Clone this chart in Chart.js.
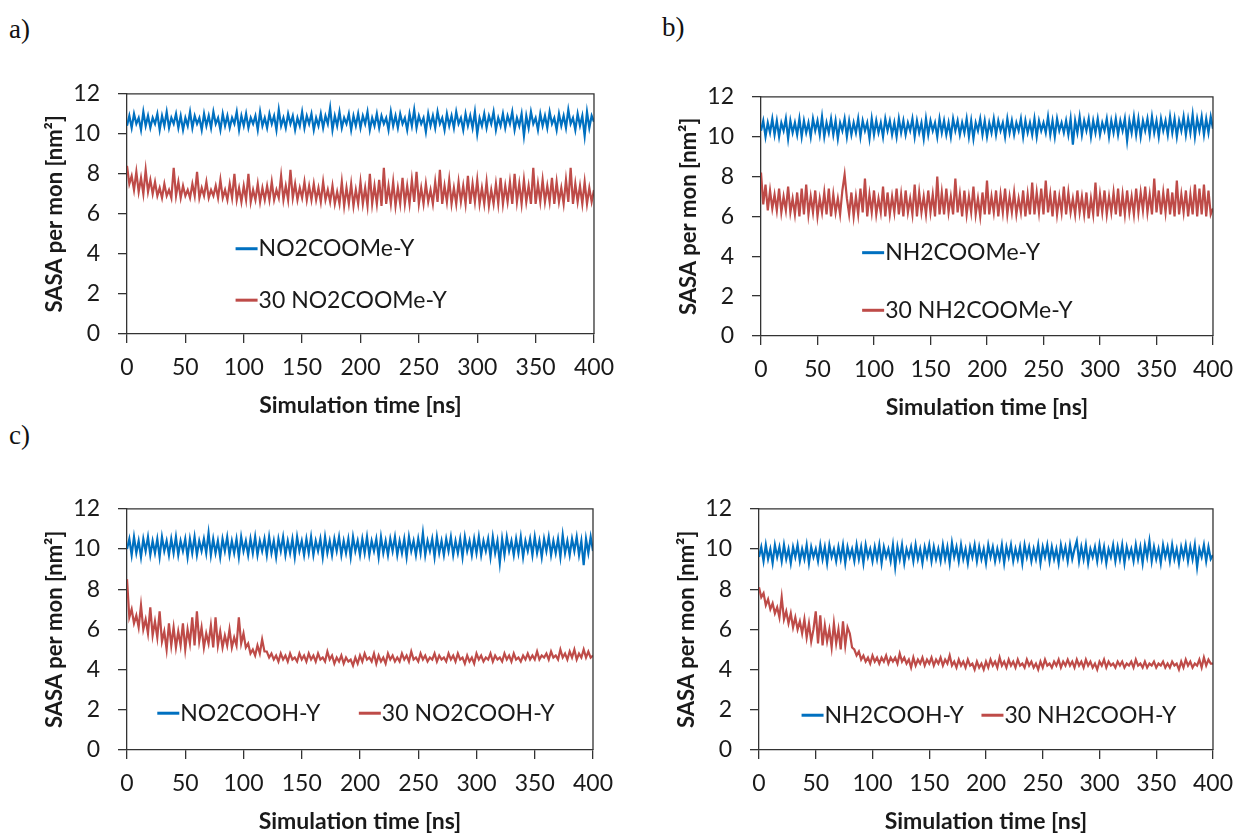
<!DOCTYPE html>
<html>
<head>
<meta charset="utf-8">
<script src="https://cdn.jsdelivr.net/npm/chart.js@4.4.1/dist/chart.umd.min.js"></script>
<style>
  html, body { margin: 0; padding: 0; background: #fff; overflow: hidden; }
  body { width: 1244px; height: 836px; position: relative; }
  canvas { position: absolute; }
  .tag { position: absolute; font-family: 'Liberation Serif', 'DejaVu Serif', serif; font-size: 27px; color: #111; line-height: 30px; }
</style>
</head>
<body>
<div class="tag" style="left:9px;top:14px">a)</div>
<div class="tag" style="left:662px;top:12px">b)</div>
<div class="tag" style="left:9px;top:420px">c)</div>
<canvas id="panelA" width="625" height="362" style="left:0px;top:62px"></canvas>
<canvas id="panelB" width="610" height="361" style="left:634px;top:65px"></canvas>
<canvas id="panelC" width="625" height="363" style="left:0px;top:477px"></canvas>
<canvas id="panelD" width="612" height="363" style="left:632px;top:477px"></canvas>
<script>
// sampling times (ns)
const timeNs = [0,2,4,6,8,10,12,14,16,18,20,22,24,26,28,30,32,34,36,38,
  40,42,44,46,48,50,52,54,56,58,60,62,64,66,68,70,72,74,76,78,
  80,82,84,86,88,90,92,94,96,98,100,102,104,106,108,110,112,114,116,118,
  120,122,124,126,128,130,132,134,136,138,140,142,144,146,148,150,152,154,156,158,
  160,162,164,166,168,170,172,174,176,178,180,182,184,186,188,190,192,194,196,198,
  200,202,204,206,208,210,212,214,216,218,220,222,224,226,228,230,232,234,236,238,
  240,242,244,246,248,250,252,254,256,258,260,262,264,266,268,270,272,274,276,278,
  280,282,284,286,288,290,292,294,296,298,300,302,304,306,308,310,312,314,316,318,
  320,322,324,326,328,330,332,334,336,338,340,342,344,346,348,350,352,354,356,358,
  360,362,364,366,368,370,372,374,376,378,380,382,384,386,388,390,392,394,396,398,
  400];

// a) SASA per monomer, nm^2
const no2coomeY = [10.4,10.9,10.3,11.0,10.5,10.8,10.2,11.1,10.4,10.9,10.3,10.8,10.5,11.0,10.2,10.9,10.4,11.1,10.3,10.8,
  10.5,11.0,10.3,10.9,10.2,10.8,10.4,11.1,10.3,10.9,10.5,10.8,10.2,11.0,10.4,10.9,10.3,11.1,10.5,10.8,
  10.2,11.0,10.4,10.9,10.3,10.8,10.5,11.1,10.2,10.9,10.4,11.0,10.3,10.8,10.5,10.9,10.2,11.1,10.4,10.8,
  10.3,11.0,10.5,10.9,10.2,11.2,10.4,10.8,10.3,11.0,10.5,10.9,10.2,10.8,10.4,11.1,10.3,10.9,10.5,11.0,
  10.2,10.8,10.4,11.0,10.3,10.9,10.5,11.3,10.2,10.9,10.4,11.1,10.3,10.8,10.5,11.0,10.2,10.9,10.4,11.0,
  10.3,10.9,10.5,11.1,10.2,10.8,10.4,11.0,10.3,10.9,10.5,10.8,10.2,11.1,10.4,10.9,10.3,11.0,10.5,10.8,
  10.2,11.0,10.4,11.2,10.3,10.9,10.5,10.8,10.1,11.0,10.4,10.9,10.3,11.1,10.5,10.8,10.2,11.0,10.4,10.9,
  10.3,11.1,10.5,10.8,10.2,11.0,10.4,10.9,10.3,11.1,10.0,10.8,10.4,11.0,10.3,10.9,10.5,11.1,10.2,10.8,
  10.4,11.0,10.3,10.9,10.5,11.1,10.2,10.8,10.4,11.0,9.9,10.9,10.3,11.1,10.5,10.8,10.2,11.0,10.4,10.9,
  10.3,11.1,10.5,10.8,10.2,11.0,10.4,10.9,10.3,11.2,10.5,10.8,10.2,11.0,10.4,10.9,9.9,11.1,10.3,10.9,
  10.6];
const no2coomeY30 = [8.4,7.5,7.9,7.2,8.1,7.1,7.8,7.0,8.2,7.1,7.7,7.0,7.6,6.9,7.3,6.8,7.5,6.9,7.2,6.8,
  8.3,6.9,7.6,6.8,7.4,6.9,7.2,6.8,7.5,6.9,8.1,6.8,7.3,6.9,7.6,6.8,7.2,6.9,7.4,6.8,
  7.7,6.8,7.2,6.7,7.5,6.8,8.0,6.7,7.3,6.6,7.4,6.7,8.0,6.6,7.2,6.7,7.5,6.6,7.3,6.7,
  7.4,6.7,7.6,6.7,7.2,6.8,7.9,6.7,7.4,6.7,8.2,6.8,7.5,6.7,7.3,6.8,7.6,6.7,7.4,6.7,
  7.5,6.7,7.3,6.6,7.6,6.7,7.2,6.6,7.4,6.5,7.1,6.5,7.6,6.4,7.3,6.5,7.5,6.4,7.2,6.5,
  7.6,6.5,7.3,6.4,8.0,6.5,7.4,6.5,7.7,6.4,8.3,6.5,7.4,6.5,7.6,6.4,7.3,6.5,7.8,6.5,
  7.4,6.5,7.7,6.6,8.1,6.5,7.3,6.5,7.5,6.6,7.2,6.5,7.6,6.6,8.2,6.5,7.4,6.6,7.7,6.5,
  7.3,6.5,7.6,6.6,7.4,6.5,7.9,6.5,7.5,6.6,7.7,6.5,7.3,6.5,7.6,6.4,7.2,6.5,7.5,6.5,
  7.8,6.5,7.4,6.6,7.6,6.5,8.0,6.6,7.5,6.5,7.7,6.6,7.4,6.5,8.3,6.5,7.5,6.6,7.7,6.6,
  7.4,6.6,7.8,6.5,7.6,6.6,7.3,6.5,7.7,6.6,8.3,6.5,7.5,6.6,7.4,6.5,7.6,6.5,7.3,6.6,
  7.2];

// b)
const nh2coomeY = [10.3,10.8,10.0,10.7,10.2,10.9,10.1,10.8,10.0,10.7,10.3,10.9,9.9,10.8,10.2,10.7,10.1,10.9,10.0,10.8,
  10.2,10.7,10.0,10.9,10.3,10.8,10.1,11.0,10.0,10.7,10.2,10.9,10.1,10.8,9.9,10.7,10.3,10.9,10.0,10.8,
  10.1,10.7,10.2,10.9,10.0,10.8,10.3,10.7,9.9,10.9,10.1,10.8,10.2,10.7,10.0,10.9,10.3,10.8,10.1,10.7,
  10.0,10.9,10.2,10.8,10.1,10.7,10.3,10.9,10.0,10.8,10.2,10.7,9.9,10.9,10.1,10.8,10.3,10.7,10.0,10.9,
  10.2,10.8,10.1,10.7,10.0,10.9,10.3,10.8,10.1,10.7,10.2,10.9,10.0,10.8,9.9,10.7,10.3,10.9,10.1,10.8,
  10.0,10.7,10.2,10.9,10.1,10.8,10.3,10.7,10.0,10.9,10.2,10.8,10.1,10.7,10.3,10.9,10.0,10.8,10.2,10.7,
  10.1,10.9,10.0,10.8,10.3,10.7,10.2,11.0,10.1,10.8,10.0,10.9,10.3,10.7,10.2,10.8,10.1,10.9,9.6,10.8,
  10.2,11.0,10.1,10.8,10.3,10.9,10.0,10.8,10.2,10.9,10.1,10.7,10.3,10.9,10.0,10.8,10.2,10.9,10.1,10.8,
  10.3,10.9,9.8,10.8,10.2,11.0,10.1,10.9,10.0,10.8,10.3,10.9,10.1,11.0,10.2,10.8,10.0,10.9,10.3,10.8,
  10.1,11.0,10.2,10.9,10.0,10.8,10.3,11.0,10.1,10.9,10.2,11.1,10.0,10.9,10.3,11.0,10.1,10.9,10.2,11.0,
  10.4];
const nh2coomeY30 = [8.2,6.6,7.6,6.3,7.3,6.4,7.1,6.3,7.4,6.2,7.0,6.3,7.5,6.2,6.9,6.1,7.2,6.0,7.4,6.1,
  7.6,6.1,7.0,6.2,7.3,6.0,6.9,6.2,7.2,6.1,7.4,6.0,7.1,6.2,6.9,6.1,7.3,8.1,6.9,6.1,
  7.2,6.0,7.0,6.1,7.4,6.2,7.9,6.0,7.1,6.2,7.3,6.1,6.9,6.2,7.5,6.0,7.2,6.1,7.0,6.2,
  7.4,6.1,7.1,6.0,7.3,6.2,6.9,6.1,7.6,6.0,7.2,6.2,7.0,6.1,7.3,6.2,7.1,6.0,8.0,6.1,
  7.2,6.1,7.4,6.2,7.0,6.1,7.9,6.2,7.1,6.0,7.3,6.1,7.0,6.2,7.5,6.1,6.9,6.0,7.2,6.1,
  7.8,6.1,7.0,6.2,7.3,6.0,7.1,6.2,7.4,6.1,7.0,6.2,7.2,6.1,6.9,6.2,7.3,6.0,7.1,6.1,
  7.7,6.1,7.2,6.2,7.4,6.1,7.8,6.2,7.1,6.0,7.3,6.1,7.0,6.2,7.5,6.1,7.2,6.2,6.9,6.1,
  7.3,6.2,7.0,6.1,7.2,5.9,6.9,6.1,7.7,6.0,7.1,6.2,7.3,6.1,7.0,6.2,7.2,6.1,7.4,6.0,
  7.1,6.1,7.3,6.2,7.0,6.1,7.4,6.2,7.2,6.3,7.5,6.2,7.1,6.1,7.9,6.2,7.3,6.1,7.2,6.2,
  7.4,6.1,7.2,6.0,7.8,6.1,7.1,6.2,7.3,6.0,7.1,6.1,7.6,6.0,7.4,6.1,7.6,6.0,7.3,6.1,
  6.4];

// c)
const no2coohY = [10.0,10.5,9.7,10.6,9.8,10.4,9.6,10.5,9.9,10.6,9.7,10.4,9.8,10.5,9.6,10.6,9.9,10.4,9.7,10.5,
  9.8,10.6,9.7,10.4,9.9,10.5,9.6,10.5,9.8,10.6,9.7,10.4,9.9,10.5,9.8,10.8,9.7,10.5,9.8,10.4,
  9.6,10.5,9.9,10.6,9.7,10.4,9.8,10.5,9.6,10.6,9.9,10.4,9.7,10.5,9.8,10.6,9.7,10.4,9.9,10.5,
  9.7,10.6,9.8,10.4,9.6,10.5,9.9,10.6,9.7,10.4,9.8,10.5,9.6,10.6,9.9,10.4,9.7,10.5,9.8,10.6,
  9.7,10.4,9.9,10.5,9.6,10.6,9.8,10.4,9.7,10.5,9.9,10.6,9.7,10.4,9.8,10.5,9.6,10.6,9.9,10.4,
  9.7,10.5,9.8,10.6,9.7,10.4,9.9,10.5,9.6,10.6,9.8,10.4,9.7,10.5,9.9,10.6,9.7,10.4,9.8,10.5,
  9.6,10.6,9.9,10.4,9.7,10.5,9.8,10.8,9.7,10.4,9.9,10.5,9.6,10.6,9.8,10.4,9.7,10.5,9.9,10.6,
  9.7,10.4,9.8,10.5,9.6,10.6,9.9,10.4,9.7,10.5,9.8,10.6,9.7,10.4,9.9,10.5,9.6,10.6,9.8,10.4,
  9.3,10.5,9.7,10.6,9.9,10.4,9.7,10.5,9.8,10.6,9.6,10.4,9.9,10.5,9.7,10.6,9.8,10.4,9.6,10.5,
  9.9,10.6,9.7,10.4,9.8,10.5,9.6,10.7,9.8,10.4,9.7,10.5,9.9,10.6,9.7,10.4,9.2,10.5,9.8,10.6,
  9.9];
const no2coohY30 = [8.5,6.6,7.0,6.3,6.7,6.1,7.2,6.0,6.5,5.8,7.1,5.7,6.4,5.6,6.9,5.4,5.9,5.0,6.3,5.2,
  6.1,5.1,5.9,5.2,6.3,5.0,6.0,5.3,6.6,5.2,6.9,5.4,6.1,5.1,5.8,5.3,6.2,5.1,6.6,5.2,
  5.9,5.1,5.7,5.2,6.0,5.1,5.6,5.2,6.6,5.3,5.8,5.1,5.3,4.8,5.0,4.7,5.2,4.8,5.5,4.9,
  4.9,4.6,4.8,4.5,4.7,4.4,4.8,4.5,4.7,4.4,4.8,4.5,4.6,4.4,4.8,4.5,4.7,4.4,4.8,4.5,
  4.7,4.4,4.8,4.5,4.6,4.4,4.9,4.5,4.7,4.3,4.6,4.4,4.7,4.3,4.6,4.4,4.5,4.2,4.6,4.3,
  4.7,4.4,4.8,4.5,4.6,4.4,4.8,4.3,4.7,4.4,4.6,4.3,4.8,4.5,4.7,4.4,4.6,4.4,4.8,4.5,
  4.7,4.4,4.9,4.5,4.6,4.4,4.8,4.5,4.7,4.4,4.6,4.5,4.8,4.4,4.7,4.5,4.6,4.4,4.8,4.5,
  4.7,4.4,4.8,4.5,4.6,4.3,4.7,4.4,4.6,4.3,4.8,4.5,4.7,4.4,4.6,4.5,4.8,4.4,4.7,4.5,
  4.6,4.4,4.8,4.5,4.7,4.4,4.8,4.5,4.6,4.4,4.7,4.5,4.8,4.5,4.7,4.5,4.9,4.5,4.7,4.6,
  4.8,4.5,4.9,4.6,4.7,4.5,5.0,4.6,4.8,4.5,4.9,4.6,5.0,4.5,4.8,4.6,5.0,4.6,4.9,4.6,
  4.7];

// d)
const nh2coohY = [9.6,10.1,9.4,10.2,9.5,10.0,9.3,10.2,9.6,10.1,9.4,10.2,9.5,10.0,9.3,10.1,9.6,10.2,9.4,10.0,
  9.5,10.2,9.3,10.1,9.6,10.0,9.4,10.2,9.5,10.1,9.3,10.2,9.6,10.0,9.4,10.1,9.5,10.2,9.3,10.1,
  9.6,10.0,9.4,10.2,9.5,10.1,9.3,10.2,9.6,10.0,9.4,10.1,9.5,10.2,9.3,10.1,9.6,10.0,9.4,10.2,
  9.1,10.1,9.5,10.2,9.3,10.0,9.6,10.1,9.4,10.2,9.5,10.0,9.3,10.1,9.6,10.2,9.4,10.1,9.5,10.0,
  9.4,10.2,9.5,10.1,9.3,10.3,9.6,10.1,9.4,10.2,9.5,10.0,9.3,10.1,9.6,10.2,9.4,10.1,9.5,10.0,
  9.3,10.2,9.6,10.1,9.4,10.0,9.5,10.2,9.3,10.1,9.6,10.2,9.4,10.0,9.5,10.1,9.3,10.2,9.6,10.1,
  9.4,10.0,9.5,10.2,9.3,10.1,9.6,10.2,9.4,10.1,9.5,10.0,9.3,10.2,9.6,10.1,9.4,10.2,9.5,10.0,
  10.4,9.4,10.1,9.5,10.2,9.3,10.0,9.6,10.1,9.4,10.2,9.5,10.1,9.3,10.0,9.6,10.2,9.4,10.1,9.5,
  10.2,9.3,10.1,9.6,10.0,9.4,10.2,9.5,10.1,9.3,10.2,9.6,10.4,9.4,10.1,9.5,10.0,9.3,10.2,9.6,
  10.1,9.4,10.2,9.5,10.0,9.3,10.1,9.6,10.2,9.4,10.1,9.5,10.2,9.1,10.0,9.6,10.2,9.4,10.1,9.5,
  9.7];
const nh2coohY30 = [8.1,7.6,7.8,7.2,7.5,7.0,7.3,6.8,7.1,6.6,7.6,6.5,6.9,6.3,6.8,6.1,6.6,6.0,6.4,5.8,
  6.5,5.6,6.3,5.4,6.0,6.9,5.3,6.7,5.2,6.2,5.4,6.0,5.1,6.3,5.3,6.0,5.0,6.4,5.2,6.1,
  5.8,5.1,5.0,4.7,4.9,4.5,4.7,4.4,4.6,4.3,4.7,4.4,4.6,4.3,4.6,4.4,4.7,4.3,4.6,4.4,
  4.6,4.3,4.8,4.4,4.6,4.3,4.5,4.1,4.6,4.2,4.5,4.3,4.6,4.2,4.5,4.3,4.6,4.2,4.5,4.3,
  4.6,4.2,4.5,4.3,4.7,4.2,4.4,4.1,4.5,4.2,4.4,4.1,4.5,4.2,4.3,4.0,4.4,4.1,4.3,4.0,
  4.4,4.1,4.5,4.2,4.4,4.1,4.6,4.2,4.4,4.1,4.5,4.2,4.4,4.1,4.5,4.2,4.3,4.1,4.5,4.2,
  4.4,4.1,4.3,4.0,4.4,4.1,4.5,4.2,4.3,4.1,4.4,4.2,4.5,4.1,4.4,4.2,4.5,4.2,4.4,4.1,
  4.5,4.2,4.4,4.1,4.5,4.2,4.4,4.1,4.3,4.0,4.4,4.2,4.5,4.1,4.4,4.2,4.3,4.1,4.4,4.2,
  4.4,4.1,4.3,4.2,4.4,4.1,4.5,4.2,4.3,4.1,4.4,4.1,4.3,4.2,4.4,4.1,4.3,4.2,4.4,4.1,
  4.3,4.1,4.4,4.2,4.3,4.0,4.4,4.1,4.5,4.2,4.4,4.1,4.3,4.2,4.5,4.1,4.6,4.2,4.5,4.3,
  4.3];

const BLUE = '#0070C0';
const RED = '#BE4B48';
const AXIS = '#333333';

Chart.defaults.font.family = 'Lato, "Noto Sans", sans-serif';
Chart.defaults.color = '#1a1a1a';

function toPoints(values) {
  return values.map((v, i) => ({ x: timeNs[i], y: v }));
}

function renderSasaPanel(canvasId, series, legendItems, padRight) {
  const canvas = document.getElementById(canvasId);
  if (!canvas || !window.Chart) return;

  // frame on top/right + legend placed in axis units
  const frameAndLegend = {
    id: 'frameAndLegend',
    afterDatasetsDraw(chart) {
      const { ctx, chartArea: a, scales } = chart;
      ctx.save();
      ctx.strokeStyle = AXIS;
      ctx.lineWidth = 1.3;
      ctx.beginPath();
      ctx.moveTo(a.left, a.top);
      ctx.lineTo(a.right, a.top);
      ctx.lineTo(a.right, a.bottom);
      ctx.stroke();
      ctx.font = '23px Lato, "Noto Sans", sans-serif';
      ctx.textBaseline = 'middle';
      ctx.textAlign = 'left';
      legendItems.forEach((item) => {
        const x = scales.x.getPixelForValue(item.t);
        const y = scales.y.getPixelForValue(item.v);
        ctx.strokeStyle = item.color;
        ctx.lineWidth = 3;
        ctx.beginPath();
        ctx.moveTo(x, y);
        ctx.lineTo(x + 22, y);
        ctx.stroke();
        ctx.fillStyle = '#1a1a1a';
        ctx.fillText(item.label, x + 23, y);
      });
      ctx.restore();
    },
  };

  new Chart(canvas, {
    type: 'line',
    data: {
      datasets: series.map((s) => ({
        label: s.label,
        data: toPoints(s.values),
        borderColor: s.color,
        borderWidth: 2.2,
        pointRadius: 0,
        tension: 0,
      })),
    },
    options: {
      responsive: false,
      animation: false,
      devicePixelRatio: 1,
      layout: { padding: { left: 0, top: 30, right: padRight, bottom: 0 } },
      plugins: { legend: { display: false }, tooltip: { enabled: false } },
      scales: {
        x: {
          type: 'linear',
          min: 0,
          max: 400,
          afterFit: (scale) => { scale.height = 90; },
          ticks: { stepSize: 50, padding: 11, font: { size: 23 } },
          grid: { drawOnChartArea: false, drawTicks: true, tickLength: 9, color: AXIS, lineWidth: 1.3 },
          border: { display: true, color: AXIS, width: 1.3 },
          title: { display: true, text: 'Simulation time [ns]', font: { size: 23, weight: 'bold' }, padding: { top: 0, bottom: 5 } },
        },
        y: {
          min: 0,
          max: 12,
          afterFit: (scale) => { scale.width = 127; },
          ticks: { stepSize: 2, padding: 18, font: { size: 23 } },
          grid: { drawOnChartArea: false, drawTicks: true, tickLength: 9, color: AXIS, lineWidth: 1.3 },
          border: { display: true, color: AXIS, width: 1.3 },
          title: { display: true, text: 'SASA per mon [nm²]', font: { size: 22, weight: 'bold' }, padding: { top: 42, bottom: 0 } },
        },
      },
    },
    plugins: [frameAndLegend],
  });
}

renderSasaPanel('panelA', [
  { label: 'NO2COOMe-Y', values: no2coomeY, color: BLUE },
  { label: '30 NO2COOMe-Y', values: no2coomeY30, color: RED },
], [
  { label: 'NO2COOMe-Y', color: BLUE, t: 93, v: 4.26 },
  { label: '30 NO2COOMe-Y', color: RED, t: 93, v: 1.69 },
], 30);

renderSasaPanel('panelB', [
  { label: 'NH2COOMe-Y', values: nh2coomeY, color: BLUE },
  { label: '30 NH2COOMe-Y', values: nh2coomeY30, color: RED },
], [
  { label: 'NH2COOMe-Y', color: BLUE, t: 89.5, v: 4.18 },
  { label: '30 NH2COOMe-Y', color: RED, t: 89.5, v: 1.29 },
], 27);

renderSasaPanel('panelC', [
  { label: 'NO2COOH-Y', values: no2coohY, color: BLUE },
  { label: '30 NO2COOH-Y', values: no2coohY30, color: RED },
], [
  { label: 'NO2COOH-Y', color: BLUE, t: 26, v: 1.83 },
  { label: '30 NO2COOH-Y', color: RED, t: 199, v: 1.83 },
], 32);

renderSasaPanel('panelD', [
  { label: 'NH2COOH-Y', values: nh2coohY, color: BLUE },
  { label: '30 NH2COOH-Y', values: nh2coohY30, color: RED },
], [
  { label: 'NH2COOH-Y', color: BLUE, t: 37.5, v: 1.73 },
  { label: '30 NH2COOH-Y', color: RED, t: 196, v: 1.73 },
], 26);
</script>
</body>
</html>
